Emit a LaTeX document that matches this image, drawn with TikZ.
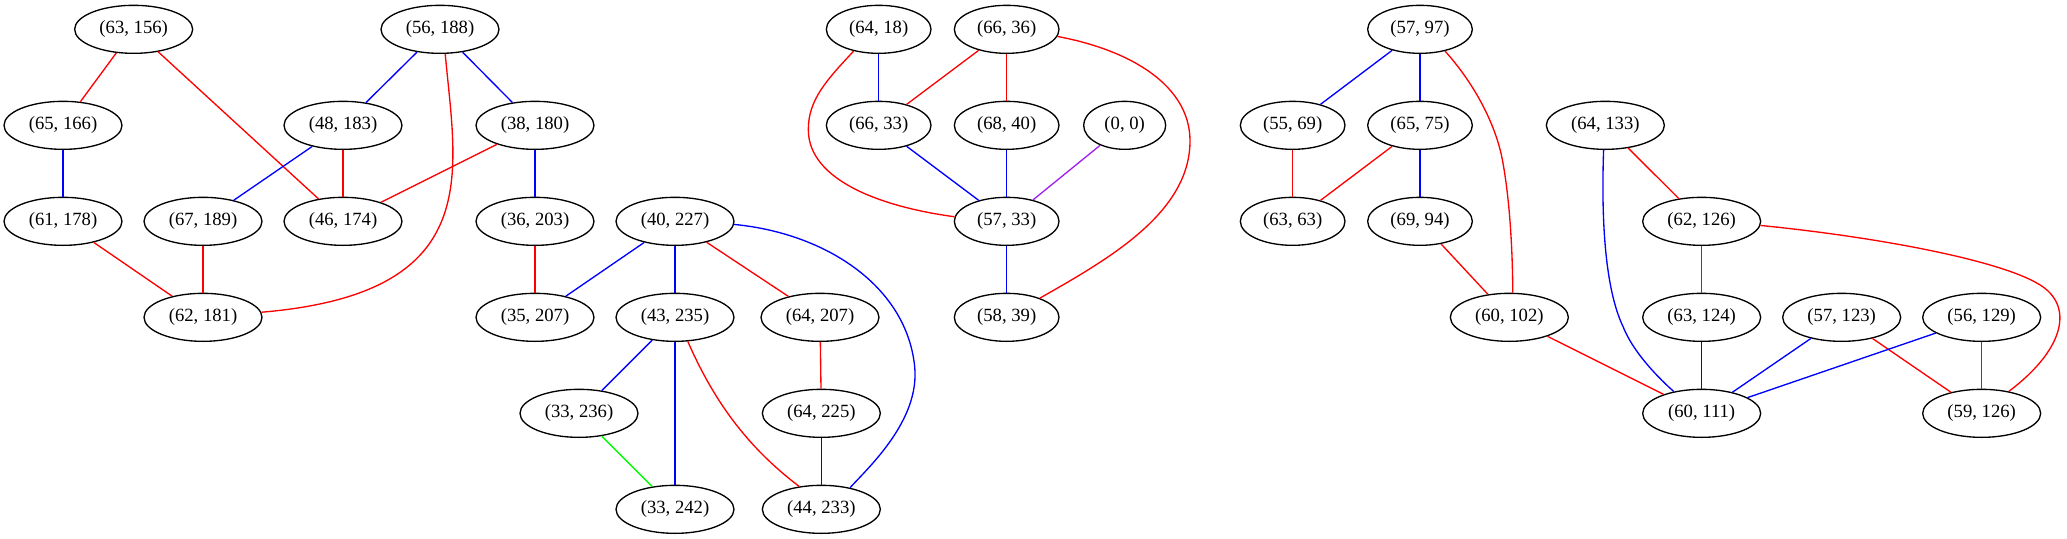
\documentclass[tikz,border=0pt]{standalone}
\usepackage{fontspec}
\setmainfont{Liberation Serif}
\usetikzlibrary{shapes.geometric}
\definecolor{gvred}{RGB}{255,0,0}
\definecolor{gvblue}{RGB}{0,0,255}
\definecolor{gvgreen}{RGB}{0,255,0}
\definecolor{gvpurple}{RGB}{160,32,240}
\begin{document}
\begin{tikzpicture}[x=1pt,y=1pt,
  gn/.style={ellipse, draw=black, line width=1pt, minimum height=36pt, inner sep=0pt, font=\fontsize{14}{16}\selectfont},
  wfive/.style={gn, minimum width=88.5pt},
  wfour/.style={gn, minimum width=78.5pt},
  wtwo/.style={gn, minimum width=61.5pt},
  er/.style={draw=gvred, line width=1pt},
  eb/.style={draw=gvblue, line width=1pt},
  eg/.style={draw=gvgreen, line width=1pt},
  ep/.style={draw=gvpurple, line width=1pt}]
\useasboundingbox (0,0) rectangle (1550.25,-404.25);
% left component
\node[wfive] (a63a) at (100.25,-22) {(63, 156)};
\node[wfive] (a56a) at (330,-22) {(56, 188)};
\node[wfive] (a65a) at (47.25,-94) {(65, 166)};
\node[wfive] (a48a) at (257.25,-94) {(48, 183)};
\node[wfive] (a38a) at (401.25,-94) {(38, 180)};
\node[wfive] (a61a) at (47.25,-166) {(61, 178)};
\node[wfive] (a67a) at (152.25,-166) {(67, 189)};
\node[wfive] (a46a) at (257.25,-166) {(46, 174)};
\node[wfive] (a36a) at (401.25,-166) {(36, 203)};
\node[wfive] (a40a) at (506.25,-166) {(40, 227)};
\node[wfive] (a62a) at (152.25,-238) {(62, 181)};
\node[wfive] (a35a) at (401.25,-238) {(35, 207)};
\node[wfive] (a43a) at (506.25,-238) {(43, 235)};
\node[wfive] (a64a) at (615,-238) {(64, 207)};
\node[wfive] (a33a) at (434.25,-310) {(33, 236)};
\node[wfive] (a64b) at (616,-310) {(64, 225)};
\node[wfive] (a33b) at (506.25,-382) {(33, 242)};
\node[wfive] (a44a) at (616,-382) {(44, 233)};
% middle component
\node[wfour] (b64a) at (659,-22) {(64, 18)};
\node[wfour] (b66a) at (755,-22) {(66, 36)};
\node[wfour] (b66b) at (659,-94) {(66, 33)};
\node[wfour] (b68a) at (755,-94) {(68, 40)};
\node[wtwo] (b00) at (843.5,-94) {(0, 0)};
\node[wfour] (b57a) at (755,-166) {(57, 33)};
\node[wfour] (b58a) at (755,-238) {(58, 39)};
% right component
\node[wfour] (c57a) at (1065,-22) {(57, 97)};
\node[wfour] (c55a) at (969.5,-94) {(55, 69)};
\node[wfour] (c65a) at (1065,-94) {(65, 75)};
\node[wfive] (c64a) at (1204,-94) {(64, 133)};
\node[wfour] (c63a) at (969.5,-166) {(63, 63)};
\node[wfour] (c69a) at (1065,-166) {(69, 94)};
\node[wfive] (c62a) at (1276.25,-166) {(62, 126)};
\node[wfive] (c60a) at (1132,-238) {(60, 102)};
\node[wfive] (c63b) at (1276.25,-238) {(63, 124)};
\node[wfive] (c57b) at (1381.25,-238) {(57, 123)};
\node[wfive] (c56a) at (1486.25,-238) {(56, 129)};
\node[wfive] (c60b) at (1276.25,-310) {(60, 111)};
\node[wfive] (c59a) at (1486.25,-310) {(59, 126)};
% left edges
\draw[er] (a63a) -- (a65a);
\draw[er] (a63a) -- (a46a);
\draw[eb] (a65a) -- (a61a);
\draw[er] (a61a) -- (a62a);
\draw[eb] (a56a) -- (a48a);
\draw[eb] (a56a) -- (a38a);
\draw[er] (a56a.-78) .. controls (342,-130) and (365,-220) .. (a62a.5);
\draw[eb] (a48a) -- (a67a);
\draw[er] (a48a) -- (a46a);
\draw[er] (a38a) -- (a46a);
\draw[eb] (a38a) -- (a36a);
\draw[er] (a67a) -- (a62a);
\draw[er] (a36a) -- (a35a);
\draw[eb] (a40a) -- (a35a);
\draw[eb] (a40a) -- (a43a);
\draw[er] (a40a) -- (a64a);
\draw[eb] (a40a.-3) .. controls (620,-175) and (680,-215) .. (686,-275)
  .. controls (690,-315) and (652,-350) .. (a44a.37);
\draw[eb] (a43a) -- (a33a);
\draw[eb] (a43a) -- (a33b);
\draw[er] (a43a.-62) .. controls (535,-300) and (560,-335) .. (a44a.134);
\draw[eg] (a33a) -- (a33b);
\draw[er] (a64a) -- (a64b);
\draw[eb] (a64b) -- (a44a);
% middle edges
\draw[eb] (b64a) -- (b66b);
\draw[er] (b64a.-139) .. controls (620,-60) and (606,-75) .. (606.25,-97.5)
  .. controls (606.5,-135) and (660,-155) .. (b57a.175);
\draw[er] (b66a) -- (b66b);
\draw[er] (b66a) -- (b68a);
\draw[er] (b66a.-8) .. controls (850,-38) and (892,-65) .. (892.5,-105)
  .. controls (893,-160) and (830,-195) .. (b58a.30);
\draw[eb] (b66b) -- (b57a);
\draw[eb] (b68a) -- (b57a);
\draw[ep] (b00) -- (b57a);
\draw[eb] (b57a) -- (b58a);
% right edges
\draw[eb] (c57a) -- (c55a);
\draw[eb] (c57a) -- (c65a);
\draw[er] (c57a.-41) .. controls (1105,-62) and (1120,-90) .. (1126,-116)
  .. controls (1132,-145) and (1134.4,-185) .. (c60a.82);
\draw[er] (c55a) -- (c63a);
\draw[er] (c65a) -- (c63a);
\draw[eb] (c65a) -- (c69a);
\draw[er] (c69a) -- (c60a);
\draw[er] (c64a) -- (c62a);
\draw[eb] (c64a.-94) .. controls (1201,-160) and (1203,-215) .. (1217.3,-245)
  .. controls (1224,-262) and (1240,-280) .. (c60b.142);
\draw[er] (c62a) -- (c63b);
\draw[er] (c62a.-4.5) .. controls (1410,-178) and (1505,-196) .. (1532,-215)
  .. controls (1556,-232) and (1546,-264) .. (c59a.39);
\draw[eb] (c63b) -- (c60b);
\draw[eb] (c57b) -- (c60b);
\draw[er] (c57b) -- (c59a);
\draw[eb] (c56a) -- (c60b);
\draw[er] (c56a) -- (c59a);
\draw[er] (c60a) -- (c60b);
\end{tikzpicture}
\end{document}
